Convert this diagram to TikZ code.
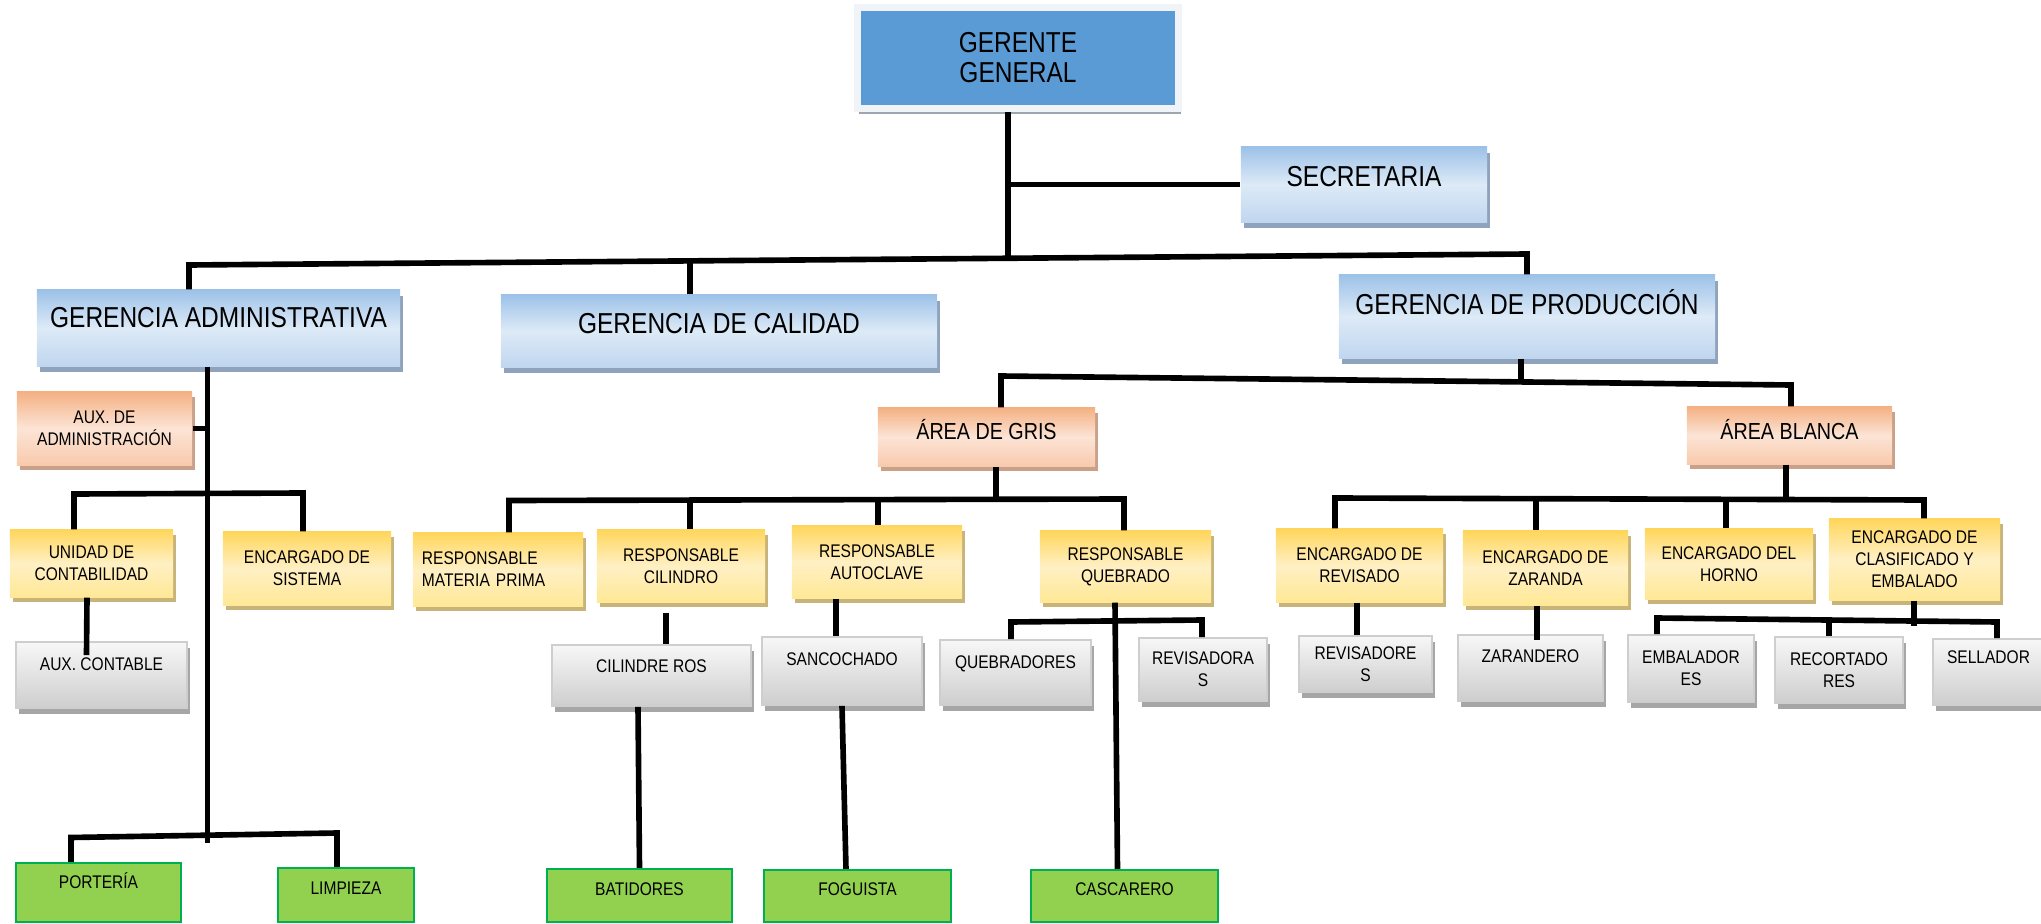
\documentclass[tikz,border=0pt]{standalone}
\usepackage{fontspec}
\setmainfont[FakeStretch=0.85]{Liberation Sans}
\usepackage{tikz}
\usetikzlibrary{calc, shadows}
\definecolor{ggblue}{RGB}{91,155,213}
\definecolor{ggframe}{RGB}{240,243,247}
\definecolor{ggshadow}{RGB}{157,166,176}
\definecolor{blueA}{RGB}{157,194,232}
\definecolor{blueB}{RGB}{221,234,247}
\definecolor{blueC}{RGB}{192,214,239}
\definecolor{blueshadow}{RGB}{143,163,188}
\definecolor{orangeA}{RGB}{244,177,131}
\definecolor{orangeB}{RGB}{252,228,214}
\definecolor{orangeC}{RGB}{248,202,172}
\definecolor{orangeshadow}{RGB}{201,160,138}
\definecolor{yellowA}{RGB}{255,214,92}
\definecolor{yellowB}{RGB}{255,240,196}
\definecolor{yellowC}{RGB}{255,232,150}
\definecolor{yellowshadow}{RGB}{200,180,122}
\definecolor{grayA}{RGB}{247,247,247}
\definecolor{grayC}{RGB}{206,206,206}
\definecolor{grayshadow}{RGB}{166,166,166}
\definecolor{greenfill}{RGB}{146,208,80}
\definecolor{greenline}{RGB}{0,176,80}

\begin{document}
\begin{tikzpicture}[x=0.01cm, y=-0.01cm,
    every node/.style={align=center, inner sep=2pt},
    big/.style={font=\fontsize{8.2pt}{8.5pt}\selectfont},
    mid/.style={font=\fontsize{6.6pt}{7.8pt}\selectfont},
    small/.style={font=\fontsize{5.2pt}{6.3pt}\selectfont},
    liftbig/.style={text height=0.195cm, text depth=#1},
    liftmid/.style={text height=0.16cm, text depth=#1},
    liftsmall/.style={text height=0.125cm, text depth=#1},
    ggbox/.style={fill=ggblue, draw=ggframe, line width=2pt,
        general shadow={fill=ggshadow, shadow xshift=0.02cm, shadow yshift=-0.06cm}},
    bluebox/.style={top color=blueA, bottom color=blueC, middle color=blueB,
        general shadow={fill=blueshadow, shadow xshift=0.03cm, shadow yshift=-0.06cm}},
    orangebox/.style={top color=orangeA, bottom color=orangeC, middle color=orangeB,
        general shadow={fill=orangeshadow, shadow xshift=0.03cm, shadow yshift=-0.05cm}},
    yellowbox/.style={top color=yellowA, bottom color=yellowC, middle color=yellowB,
        general shadow={fill=yellowshadow, shadow xshift=0.03cm, shadow yshift=-0.05cm}},
    graybox/.style={top color=grayA, bottom color=grayC, draw=grayC, line width=0.5pt,
        general shadow={fill=grayshadow, shadow xshift=0.03cm, shadow yshift=-0.06cm}},
    greenbox/.style={fill=greenfill, draw=greenline, line width=0.6pt},
    link/.style={line width=1.6pt, black}]
  \useasboundingbox (0,0) rectangle (2041,924);

  % GERENCIA
  \node[ggbox, big, minimum width=3.21cm, minimum height=1.0cm] (gg) at (1018,58) {GERENTE\\GENERAL};
  \node[bluebox, big, liftbig=0.15cm, minimum width=2.46cm, minimum height=0.75cm] (sec) at (1364,184.5) {SECRETARIA};
  \node[bluebox, big, liftbig=0.2cm, minimum width=3.63cm, minimum height=0.76cm] (ga) at (218.5,328) {GERENCIA ADMINISTRATIVA};
  \node[bluebox, big, liftbig=0.14cm, minimum width=4.36cm, minimum height=0.72cm] (gc) at (719,331) {GERENCIA DE CALIDAD};
  \node[bluebox, big, liftbig=0.23cm, minimum width=3.76cm, minimum height=0.83cm] (gp) at (1527,316.5) {GERENCIA DE PRODUCCIÓN};

  % ADMINISTRACION
  \node[orangebox, small, minimum width=1.75cm, minimum height=0.73cm] (aux) at (104.5,428.5) {AUX. DE\\ADMINISTRACIÓN};
  \node[yellowbox, small, minimum width=1.63cm, minimum height=0.67cm] (uc) at (91.5,563.5) {UNIDAD DE\\CONTABILIDAD};
  \node[yellowbox, small, minimum width=1.68cm, minimum height=0.73cm] (es) at (307,568.5) {ENCARGADO DE\\SISTEMA};
  \node[graybox, small, liftsmall=0.21cm, minimum width=1.71cm, minimum height=0.66cm] (ac) at (101.5,675) {AUX. CONTABLE};
  \node[greenbox, small, liftsmall=0.2cm, minimum width=1.65cm, minimum height=0.59cm] (port) at (98.5,892.5) {PORTERÍA};
  \node[greenbox, small, liftsmall=0.14cm, minimum width=1.36cm, minimum height=0.54cm] (limp) at (346,895) {LIMPIEZA};

  % AREA DE GRIS
  \node[orangebox, mid, liftmid=0.11cm, minimum width=2.17cm, minimum height=0.58cm] (gris) at (986.5,437) {ÁREA DE GRIS};
  \node[yellowbox, small, align=left, text width=1.52cm, minimum width=1.70cm, minimum height=0.73cm] (rmp) at (498,569.5) {RESPONSABLE\\MATERIA PRIMA};
  \node[yellowbox, small, minimum width=1.68cm, minimum height=0.72cm] (rc) at (681,566) {RESPONSABLE\\CILINDRO};
  \node[yellowbox, small, minimum width=1.70cm, minimum height=0.72cm] (ra) at (877,562) {RESPONSABLE\\AUTOCLAVE};
  \node[yellowbox, small, minimum width=1.71cm, minimum height=0.71cm] (rq) at (1125.5,566.5) {RESPONSABLE\\QUEBRADO};
  \node[graybox, small, liftsmall=0.18cm, minimum width=1.99cm, minimum height=0.61cm] (cr) at (651.5,675.5) {CILINDRE ROS};
  \node[graybox, small, liftsmall=0.24cm, minimum width=1.60cm, minimum height=0.68cm] (sanc) at (842,671) {SANCOCHADO};
  \node[graybox, small, liftsmall=0.21cm, minimum width=1.51cm, minimum height=0.65cm] (queb) at (1015.5,672.5) {QUEBRADORES};
  \node[graybox, small, minimum width=1.28cm, minimum height=0.63cm] (revas) at (1203,669.5) {REVISADORA\\S};
  \node[greenbox, small, liftsmall=0.13cm, minimum width=1.85cm, minimum height=0.53cm] (bat) at (639.5,895.5) {BATIDORES};
  \node[greenbox, small, liftsmall=0.14cm, minimum width=1.87cm, minimum height=0.52cm] (fog) at (857.5,896) {FOGUISTA};
  \node[greenbox, small, liftsmall=0.14cm, minimum width=1.87cm, minimum height=0.52cm] (casc) at (1124.5,896) {CASCARERO};

  % AREA BLANCA
  \node[orangebox, mid, liftmid=0.09cm, minimum width=2.05cm, minimum height=0.57cm] (blanca) at (1789.5,435.5) {ÁREA BLANCA};
  \node[yellowbox, small, minimum width=1.67cm, minimum height=0.73cm] (er) at (1359.5,565.5) {ENCARGADO DE\\REVISADO};
  \node[yellowbox, small, minimum width=1.65cm, minimum height=0.74cm] (ez) at (1545.5,568) {ENCARGADO DE\\ZARANDA};
  \node[yellowbox, small, minimum width=1.68cm, minimum height=0.70cm] (eh) at (1729,564) {ENCARGADO DEL\\HORNO};
  \node[yellowbox, small, minimum width=1.71cm, minimum height=0.81cm] (ece) at (1914.5,559.5) {ENCARGADO DE\\CLASIFICADO Y\\EMBALADO};
  \node[graybox, small, minimum width=1.33cm, minimum height=0.56cm] (reves) at (1365.5,664) {REVISADORE\\S};
  \node[graybox, small, liftsmall=0.24cm, minimum width=1.45cm, minimum height=0.66cm] (zar) at (1530.5,668) {ZARANDERO};
  \node[graybox, small, minimum width=1.26cm, minimum height=0.67cm] (emb) at (1691,668.5) {EMBALADOR\\ES};
  \node[graybox, small, minimum width=1.28cm, minimum height=0.66cm] (rec) at (1839,670) {RECORTADO\\RES};
  \node[graybox, small, liftsmall=0.3cm, minimum width=1.11cm, minimum height=0.66cm] (sell) at (1988.5,672) {SELLADOR};

  % bar ends
  \coordinate (topL) at (189,265);
  \coordinate (topC) at (690,261);
  \coordinate (topM) at (1008,258.5);
  \coordinate (topR) at (1527,254);
  \coordinate (prodL) at (1001,376);
  \coordinate (prodM) at (1521,382);
  \coordinate (prodR) at (1791,385);
  \coordinate (admV) at (207.5,843);
  \coordinate (admL) at (74,494);
  \coordinate (admR) at (303,493);
  \coordinate (lowL) at (71,837.5);
  \coordinate (lowR) at (337,833);
  \coordinate (grisL) at (509,500.5);
  \coordinate (grisC1) at (690,500.2);
  \coordinate (grisC2) at (878,499.6);
  \coordinate (grisM) at (996,499.3);
  \coordinate (grisR) at (1124,499);
  \coordinate (quebL) at (1011,622);
  \coordinate (quebR) at (1202,620);
  \coordinate (blL) at (1335,498);
  \coordinate (blC1) at (1536,498.7);
  \coordinate (blC2) at (1726,499.3);
  \coordinate (blM) at (1786,499.5);
  \coordinate (blR) at (1924,500);
  \coordinate (ceL) at (1657,618);
  \coordinate (ceC) at (1829,620);
  \coordinate (ceV) at (1914,626);
  \coordinate (ceR) at (1997,622);

  % LINES
  \draw[link] (gg.south -| topM) -- (topM);
  \draw[link] (sec.west) -- (sec.west -| topM);
  \draw[link] (ga.north -| topL) -- (topL) -- (topR) -- (gp.north);
  \draw[link] (topC) -- (gc.north -| topC);

  \draw[link] (ga.south -| admV) -- (admV);
  \draw[link] (aux.east) -- (aux.east -| admV);
  \draw[link] (uc.north -| admL) -- (admL) -- (admR) -- (es.north -| admR);
  \draw[link] ($(uc.south)+(-4.5,0)$) -- ($(ac.north)+(-15,14)$);
  \draw[link] (port.north -| lowL) -- (lowL) -- (lowR) -- (limp.north -| lowR);

  \draw[link] (gp.south -| prodM) -- (prodM);
  \draw[link] (gris.north -| prodL) -- (prodL) -- (prodR) -- (blanca.north -| prodR);

  \draw[link] (gris.south -| grisM) -- (grisM);
  \draw[link] (rmp.north -| grisL) -- (grisL) -- (grisR) -- (rq.north -| grisR);
  \draw[link] (grisC1) -- (rc.north -| grisC1);
  \draw[link] (grisC2) -- (ra.north -| grisC2);
  \draw[link] ($(rc.south)+(-15,10)$) -- ($(cr.north)+(14.5,0)$);
  \draw[link] ($(cr.south)+(-13.5,0)$) -- (bat.north);
  \draw[link] ($(ra.south)+(-41,0)$) -- ($(sanc.north)+(-6,0)$);
  \draw[link] (sanc.south) -- ($(fog.north)+(-11.5,0)$);
  \draw[link] ($(rq.south)+(-10.5,0)$) -- ($(casc.north)+(-7,0)$);
  \draw[link] (queb.north -| quebL) -- (quebL) -- (quebR) -- (revas.north -| quebR);

  \draw[link] (blanca.south -| blM) -- (blM);
  \draw[link] (er.north -| blL) -- (blL) -- (blR) -- (ece.north -| blR);
  \draw[link] (blC1) -- (ez.north -| blC1);
  \draw[link] (blC2) -- (eh.north -| blC2);
  \draw[link] ($(er.south)+(-2.5,0)$) -- ($(reves.north)+(-8.5,0)$);
  \draw[link] ($(ez.south)+(-8.5,0)$) -- ($(zar.north)+(6.5,6)$);
  \draw[link] (ece.south -| ceV) -- (ceV);
  \draw[link] (emb.north -| ceL) -- (ceL) -- (ceR) -- (sell.north -| ceR);
  \draw[link] (ceC) -- (rec.north -| ceC);
\end{tikzpicture}
\end{document}
